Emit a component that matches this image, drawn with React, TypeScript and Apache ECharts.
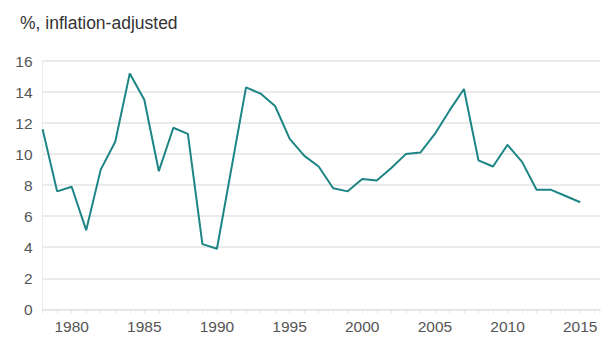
import React, { useEffect, useRef } from "react";
import * as echarts from "echarts";

const years = [
  1978, 1979, 1980, 1981, 1982, 1983, 1984, 1985, 1986, 1987, 1988, 1989, 1990,
  1991, 1992, 1993, 1994, 1995, 1996, 1997, 1998, 1999, 2000, 2001, 2002, 2003,
  2004, 2005, 2006, 2007, 2008, 2009, 2010, 2011, 2012, 2013, 2014, 2015,
];
const values = [
  11.6, 7.6, 7.9, 5.1, 9.0, 10.8, 15.2, 13.5, 8.9, 11.7, 11.3, 4.2, 3.9,
  9.1, 14.3, 13.9, 13.1, 11.0, 9.9, 9.2, 7.8, 7.6, 8.4, 8.3, 9.1, 10.0,
  10.1, 11.3, 12.8, 14.2, 9.6, 9.2, 10.6, 9.5, 7.7, 7.7, 7.3, 6.9,
];
const title = "%, inflation-adjusted";
const yTicks = { min: 0, max: 16, interval: 2 };
const xRange = { min: 1978, max: 2016.4, labelEvery: 5 };

export default function App() {
  const ref = useRef<HTMLDivElement>(null);
  useEffect(() => {
    if (!ref.current) return;
    const chart = echarts.init(ref.current, null, { renderer: "svg" });
    const font = "'Liberation Sans', Arial, Helvetica, sans-serif";
    chart.setOption({
      animation: false,
      backgroundColor: "#ffffff",
      textStyle: { fontFamily: font },
      title: {
        text: title,
        left: 15,
        top: 9,
        textStyle: { fontFamily: font, fontSize: 17.5, fontWeight: "normal", color: "#333333" },
      },
      grid: { left: 42.6, right: 15.5, top: 61, bottom: 36.7, containLabel: false },
      xAxis: {
        type: "value",
        min: xRange.min,
        max: xRange.max,
        interval: 1,
        axisLine: { show: true, lineStyle: { color: "#e3e3e3", width: 1 } },
        axisTick: { show: true, length: 4, lineStyle: { color: "#e3e3e3" } },
        splitLine: { show: false },
        axisLabel: {
          color: "#555555",
          fontSize: 15.5,
          fontFamily: font,
          margin: 9,
          showMaxLabel: false,
          formatter: (v: number) =>
            Number.isInteger(v) && v % xRange.labelEvery === 0 ? String(v) : "",
        },
      },
      yAxis: {
        type: "value",
        min: yTicks.min,
        max: yTicks.max,
        interval: yTicks.interval,
        axisLine: { show: true, lineStyle: { color: "#ececec", width: 1 } },
        axisTick: { show: false },
        splitLine: { show: true, lineStyle: { color: "#e3e3e3", width: 1.5 } },
        axisLabel: { color: "#555555", fontSize: 15.5, fontFamily: font, margin: 10 },
      },
      series: [
        {
          type: "line",
          data: years.map((y, i) => [y, values[i]]),
          showSymbol: false,
          symbol: "none",
          lineStyle: { color: "#1d8585", width: 2 },
          z: 3,
        },
      ],
    });
    return () => chart.dispose();
  }, []);
  return (
    <div
      ref={ref}
      style={{ position: "fixed", left: 0, top: 0, width: 616, height: 346 }}
    />
  );
}
